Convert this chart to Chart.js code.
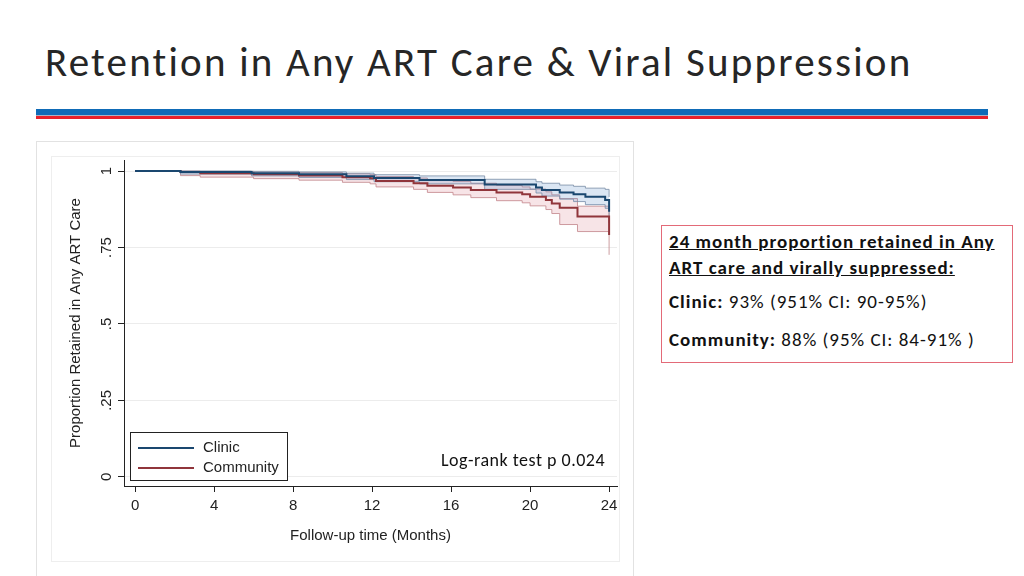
<!DOCTYPE html>
<html>
<head>
<meta charset="utf-8">
<script src="https://cdn.jsdelivr.net/npm/chart.js@4.4.1/dist/chart.umd.min.js"></script>
<style>
    body { margin: 0; width: 1024px; height: 576px; background: #fff; position: relative; overflow: hidden; font-family: Carlito, Lato, 'Open Sans', sans-serif; color: #111; }
    #title { position: absolute; left: 45px; top: 37px; font-size: 41px; letter-spacing: 2.2px; color: #262626; white-space: nowrap; line-height: 50px; }
    .rule { position: absolute; left: 36px; width: 952px; }
    #panel { position: absolute; left: 36px; top: 141px; width: 596px; height: 440px; border: 1px solid #e2e2e2; }
    #inner { position: absolute; left: 51px; top: 156px; width: 567px; height: 404px; border: 1px solid #eeeeee; }
    #chart { position: absolute; left: 36px; top: 141px; }
    #legend { position: absolute; left: 130px; top: 432px; width: 156px; height: 47px; border: 1px solid #222; background: #fff; font-family: 'Liberation Sans', Arial, sans-serif; font-size: 15px; color: #222; }
    .lg-line { position: absolute; left: 7px; width: 56px; height: 2px; }
    .lg-text { position: absolute; left: 72px; line-height: 16px; }
    #logrank { position: absolute; left: 441px; top: 449px; font-size: 18px; letter-spacing: 0.5px; white-space: nowrap; }
    #stats { position: absolute; left: 661px; top: 225px; width: 350px; height: 136px; border: 1px solid #e36a78; }
    .st { position: absolute; left: 669px; font-size: 19px; letter-spacing: 1px; white-space: nowrap; line-height: 22px; }
    .st b { font-weight: 700; }
</style>
</head>
<body>
<div id="title">Retention in Any ART Care &amp; Viral Suppression</div>
<div class="rule" style="top:109px;height:6px;background:#0f6bb7;"></div>
<div class="rule" style="top:115px;height:1px;background:#a9b3c6;"></div>
<div class="rule" style="top:116px;height:3px;background:#e7222b;"></div>

<div id="panel"></div>
<div id="inner"></div>
<canvas id="chart" width="597" height="435"></canvas>

<div id="legend">
    <div class="lg-line" style="top:14px;background:#1a476f;"></div>
    <div class="lg-text" style="top:6px;">Clinic</div>
    <div class="lg-line" style="top:34px;background:#90353b;"></div>
    <div class="lg-text" style="top:26px;">Community</div>
</div>
<div id="logrank">Log-rank test p 0.024</div>

<div id="stats"></div>
<div class="st" style="top:231px;"><b><u>24 month proportion retained in Any</u></b></div>
<div class="st" style="top:257px;"><b><u>ART care and virally suppressed:</u></b></div>
<div class="st" style="top:291px;"><b>Clinic:</b> 93% (951% CI: 90-95%)</div>
<div class="st" style="top:329px;"><b>Community:</b> 88% (95% CI: 84-91% )</div>

<script>
// Kaplan-Meier steps (time in months, proportion retained)
const clinicTime  = [0, 2.3, 5.9, 8.3, 10.7, 12.1, 14.4, 17.7, 20.3, 20.6, 21.5, 22.2, 22.8, 23.8, 24.0];
const clinicSurv  = [1, 0.997, 0.993, 0.989, 0.983, 0.977, 0.971, 0.956, 0.946, 0.938, 0.930, 0.924, 0.916, 0.905, 0.867];
const clinicHigh  = [1, 1.000, 0.999, 0.997, 0.993, 0.988, 0.984, 0.973, 0.965, 0.960, 0.954, 0.950, 0.944, 0.940, 0.915];
const clinicLow   = [1, 0.990, 0.984, 0.979, 0.972, 0.965, 0.958, 0.940, 0.928, 0.918, 0.908, 0.900, 0.890, 0.878, 0.830];

const communityTime = [0, 2.3, 3.3, 6.0, 8.3, 10.5, 11.9, 12.2, 14.1, 14.8, 16.1, 17.0, 18.3, 19.6, 20.0, 20.8, 21.1, 21.5, 22.4, 24.0];
const communitySurv = [1, 0.997, 0.993, 0.989, 0.985, 0.980, 0.976, 0.967, 0.960, 0.952, 0.946, 0.938, 0.930, 0.924, 0.916, 0.905, 0.894, 0.880, 0.851, 0.791];
const communityHigh = [1, 1.000, 0.999, 0.997, 0.995, 0.991, 0.988, 0.982, 0.977, 0.971, 0.966, 0.960, 0.953, 0.948, 0.941, 0.932, 0.922, 0.910, 0.885, 0.850];
const communityLow  = [1, 0.985, 0.980, 0.975, 0.970, 0.963, 0.958, 0.948, 0.940, 0.930, 0.922, 0.913, 0.903, 0.896, 0.886, 0.874, 0.861, 0.825, 0.802, 0.726];

const xTickValues = [0, 4, 8, 12, 16, 20, 24];
const yTickValues = [0, 0.25, 0.5, 0.75, 1];
const yTickLabels = ['0', '.25', '.5', '.75', '1'];

const toPoints = (times, vals) => times.map((t, i) => ({ x: t, y: vals[i] }));

const axisFont = { family: "'Liberation Sans', Arial, sans-serif", size: 15 };

// Stata writes the y tick labels turned on their side
const yLabelPlugin = {
    id: 'yLabelPlugin',
    afterDraw: chart => {
        const y = chart.scales.y;
        const ctx = chart.ctx;
        ctx.save();
        ctx.font = '15px "Liberation Sans", Arial, sans-serif';
        ctx.fillStyle = '#222';
        ctx.textAlign = 'center';
        ctx.textBaseline = 'middle';
        yTickValues.forEach((v, i) => {
            ctx.save();
            ctx.translate(y.right - 17, y.getPixelForValue(v));
            ctx.rotate(-Math.PI / 2);
            ctx.fillText(yTickLabels[i], 0, 0);
            ctx.restore();
        });
        ctx.restore();
    }
};

new Chart(document.getElementById('chart').getContext('2d'), {
    type: 'line',
    plugins: [yLabelPlugin],
    data: {
        datasets: [
            {
                label: 'Clinic',
                data: toPoints(clinicTime, clinicSurv),
                borderColor: '#1a476f',
                borderWidth: 2,
                stepped: true,
                pointRadius: 0,
                fill: false
            },
            {
                label: 'Community',
                data: toPoints(communityTime, communitySurv),
                borderColor: '#90353b',
                borderWidth: 2,
                stepped: true,
                pointRadius: 0,
                fill: false
            },
            {
                label: 'Clinic upper',
                data: toPoints(clinicTime, clinicHigh),
                borderColor: 'rgba(120,140,165,0.8)',
                borderWidth: 1,
                stepped: true,
                pointRadius: 0,
                fill: '+1',
                backgroundColor: 'rgba(90,140,200,0.22)'
            },
            {
                label: 'Clinic lower',
                data: toPoints(clinicTime, clinicLow),
                borderColor: 'rgba(120,140,165,0.8)',
                borderWidth: 1,
                stepped: true,
                pointRadius: 0,
                fill: false
            },
            {
                label: 'Community upper',
                data: toPoints(communityTime, communityHigh),
                borderColor: 'rgba(195,140,145,0.85)',
                borderWidth: 1,
                stepped: true,
                pointRadius: 0,
                fill: '+1',
                backgroundColor: 'rgba(215,120,135,0.2)'
            },
            {
                label: 'Community lower',
                data: toPoints(communityTime, communityLow),
                borderColor: 'rgba(195,140,145,0.85)',
                borderWidth: 1,
                stepped: true,
                pointRadius: 0,
                fill: false
            }
        ]
    },
    options: {
        responsive: false,
        animation: false,
        devicePixelRatio: 1,
        layout: { padding: { top: 19, right: 16, left: 0, bottom: 0 } },
        plugins: {
            legend: { display: false },
            tooltip: { enabled: false }
        },
        scales: {
            x: {
                type: 'linear',
                min: -0.56,
                max: 24.4,
                afterFit: s => { s.height = 90; },
                afterBuildTicks: s => { s.ticks = xTickValues.map(v => ({ value: v })); },
                ticks: {
                    font: axisFont,
                    color: '#222',
                    padding: 5,
                    maxRotation: 0,
                    autoSkip: false,
                    callback: v => String(v)
                },
                grid: { drawOnChartArea: false, drawTicks: true, tickLength: 6, tickColor: '#222' },
                border: { display: true, color: '#222', width: 1 },
                title: {
                    display: true,
                    text: 'Follow-up time (Months)',
                    font: axisFont,
                    color: '#222',
                    padding: { top: 0, bottom: 31 }
                }
            },
            y: {
                min: -0.03,
                max: 1.036,
                afterFit: s => { s.width = 88; },
                afterBuildTicks: s => { s.ticks = yTickValues.map(v => ({ value: v })); },
                ticks: { display: false },
                grid: { drawOnChartArea: true, color: '#ececec', drawTicks: true, tickLength: 6, tickColor: '#222' },
                border: { display: true, color: '#222', width: 1 },
                title: {
                    display: true,
                    text: 'Proportion Retained in Any ART Care',
                    font: axisFont,
                    color: '#222',
                    padding: { top: 31, bottom: 0 }
                }
            }
        }
    }
});
</script>
</body>
</html>
